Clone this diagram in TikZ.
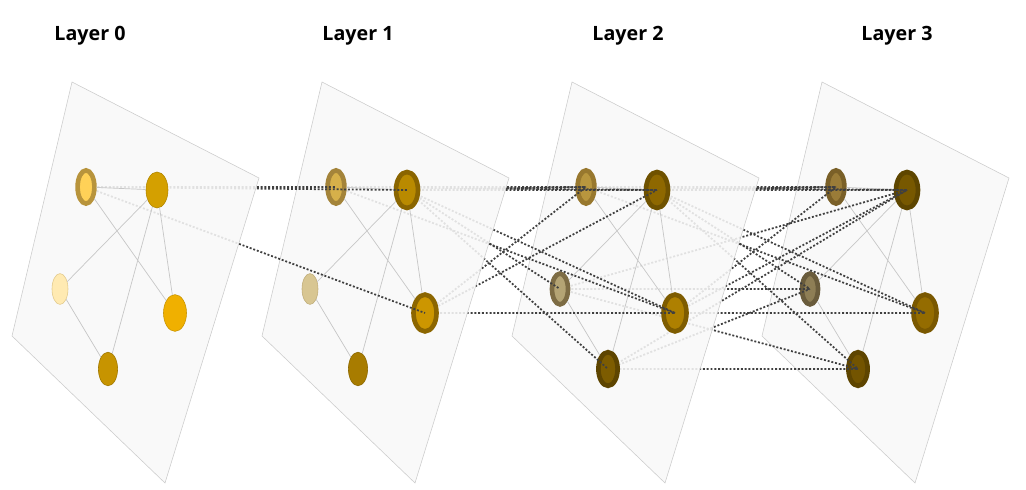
\documentclass[tikz,border=0pt]{standalone}
\usepackage{fontspec}
\setsansfont{Open Sans}
\usetikzlibrary{shapes.geometric}

\definecolor{sheetfill}{HTML}{F8F8F8}
% layer 0
\definecolor{r00}{HTML}{B8943C}\definecolor{f00}{HTML}{FFD157}
\definecolor{r01}{HTML}{B08600}\definecolor{f01}{HTML}{D4A000}
\definecolor{r02}{HTML}{E2C98A}\definecolor{f02}{HTML}{FFEAB2}
\definecolor{r03}{HTML}{C89400}\definecolor{f03}{HTML}{F0B000}
\definecolor{r04}{HTML}{A07800}\definecolor{f04}{HTML}{C79400}
% layer 1
\definecolor{r10}{HTML}{A4843A}\definecolor{f10}{HTML}{D6B04A}
\definecolor{r11}{HTML}{8A6500}\definecolor{f11}{HTML}{B98A00}
\definecolor{r12}{HTML}{BFAC78}\definecolor{f12}{HTML}{D8C692}
\definecolor{r13}{HTML}{8C6600}\definecolor{f13}{HTML}{CC9600}
\definecolor{r14}{HTML}{8C6800}\definecolor{f14}{HTML}{A87C00}
% layer 2
\definecolor{r20}{HTML}{98782E}\definecolor{f20}{HTML}{B8963E}
\definecolor{r21}{HTML}{6F5200}\definecolor{f21}{HTML}{8E6800}
\definecolor{r22}{HTML}{7D6C44}\definecolor{f22}{HTML}{B4A474}
\definecolor{r23}{HTML}{7E5C00}\definecolor{f23}{HTML}{AE8000}
\definecolor{r24}{HTML}{5E4500}\definecolor{f24}{HTML}{7D5C00}
% layer 3
\definecolor{r30}{HTML}{7A6028}\definecolor{f30}{HTML}{9A7C38}
\definecolor{r31}{HTML}{5E4600}\definecolor{f31}{HTML}{775800}
\definecolor{r32}{HTML}{6A5C3C}\definecolor{f32}{HTML}{8E7E55}
\definecolor{r33}{HTML}{7A5800}\definecolor{f33}{HTML}{946C00}
\definecolor{r34}{HTML}{5E4500}\definecolor{f34}{HTML}{735400}

\pgfdeclarelayer{sheet3}
\pgfdeclarelayer{hop23}
\pgfdeclarelayer{sheet2}
\pgfdeclarelayer{hop12}
\pgfdeclarelayer{sheet1}
\pgfdeclarelayer{hop01}
\pgfdeclarelayer{sheet0}
\pgfsetlayers{sheet3,hop23,sheet2,hop12,sheet1,hop01,sheet0,main}

\tikzset{
  sheet/.style={draw=black!20, line width=0.4pt, fill=sheetfill, fill opacity=0.88},
  link/.style={draw=black!22, line width=0.5pt},
  hop/.style={draw=black!75, line width=1.25pt, dash pattern=on 1.4pt off 1.3pt},
  dot/.style={ellipse, inner sep=0pt, line width=0.4pt},
  ring/.style={ellipse, inner sep=0pt, line width=3.3pt},
  k0/.style={minimum width=0.42cm, minimum height=0.83cm},
  k1/.style={minimum width=0.55cm, minimum height=0.90cm},
  k2/.style={minimum width=0.40cm, minimum height=0.77cm},
  k3/.style={minimum width=0.575cm, minimum height=0.92cm},
  k4/.style={minimum width=0.48cm, minimum height=0.84cm},
  title/.style={font=\sffamily\bfseries\fontsize{14}{16}\selectfont}
}

\begin{document}
\begin{tikzpicture}[x=0.025cm,y=-0.025cm]
\useasboundingbox (0,0) rectangle (1026,490);

% layer 3
\begin{pgfonlayer}{sheet3}
\draw[sheet] (822,82) -- (1009,178) -- (915,483) -- (762,336) -- cycle;
\node[ring,k0,draw=r30,fill=f30] (n3-0) at (836,187) {};
\node[ring,k1,draw=r31,fill=f31] (n3-1) at (907,190) {};
\node[ring,k2,draw=r32,fill=f32] (n3-2) at (810,289) {};
\node[ring,k3,draw=r33,fill=f33] (n3-3) at (925,313) {};
\node[ring,k4,draw=r34,fill=f34] (n3-4) at (858,369) {};
\draw[link] (n3-0) -- (n3-1) (n3-0) -- (n3-3) (n3-1) -- (n3-2) (n3-1) -- (n3-3) (n3-1) -- (n3-4) (n3-2) -- (n3-4);
\end{pgfonlayer}

% layer 2
\begin{pgfonlayer}{sheet2}
\draw[sheet] (572,82) -- (759,178) -- (665,483) -- (512,336) -- cycle;
\node[ring,k0,draw=r20,fill=f20] (n2-0) at (586,187) {};
\node[ring,k1,draw=r21,fill=f21] (n2-1) at (657,190) {};
\node[ring,k2,draw=r22,fill=f22] (n2-2) at (560,289) {};
\node[ring,k3,draw=r23,fill=f23] (n2-3) at (675,313) {};
\node[ring,k4,draw=r24,fill=f24] (n2-4) at (608,369) {};
\draw[link] (n2-0) -- (n2-1) (n2-0) -- (n2-3) (n2-1) -- (n2-2) (n2-1) -- (n2-3) (n2-1) -- (n2-4) (n2-2) -- (n2-4);
\end{pgfonlayer}

% layer 1
\begin{pgfonlayer}{sheet1}
\draw[sheet] (322,82) -- (509,178) -- (415,483) -- (262,336) -- cycle;
\node[ring,k0,draw=r10,fill=f10] (n1-0) at (336,187) {};
\node[ring,k1,draw=r11,fill=f11] (n1-1) at (407,190) {};
\node[dot,k2,draw=r12,fill=f12] (n1-2) at (310,289) {};
\node[ring,k3,draw=r13,fill=f13] (n1-3) at (425,313) {};
\node[dot,k4,draw=r14,fill=f14] (n1-4) at (358,369) {};
\draw[link] (n1-0) -- (n1-1) (n1-0) -- (n1-3) (n1-1) -- (n1-2) (n1-1) -- (n1-3) (n1-1) -- (n1-4) (n1-2) -- (n1-4);
\end{pgfonlayer}

% layer 0
\begin{pgfonlayer}{sheet0}
\draw[sheet] (72,82) -- (259,178) -- (165,483) -- (12,336) -- cycle;
\node[ring,k0,draw=r00,fill=f00] (n0-0) at (86,187) {};
\node[dot,k1,draw=r01,fill=f01] (n0-1) at (157,190) {};
\node[dot,k2,draw=r02,fill=f02] (n0-2) at (60,289) {};
\node[dot,k3,draw=r03,fill=f03] (n0-3) at (175,313) {};
\node[dot,k4,draw=r04,fill=f04] (n0-4) at (108,369) {};
\draw[link] (n0-0) -- (n0-1) (n0-0) -- (n0-3) (n0-1) -- (n0-2) (n0-1) -- (n0-3) (n0-1) -- (n0-4) (n0-2) -- (n0-4);
\end{pgfonlayer}

% messages between layers
\begin{pgfonlayer}{hop01}
\draw[hop] (n0-0.center) -- (n1-0.center) (n0-0.center) -- (n1-1.center) (n0-0.center) -- (n1-3.center);
\end{pgfonlayer}
\begin{pgfonlayer}{hop12}
\draw[hop] (n1-0.center) -- (n2-0.center) (n1-0.center) -- (n2-1.center) (n1-0.center) -- (n2-3.center);
\draw[hop] (n1-1.center) -- (n2-0.center) (n1-1.center) -- (n2-1.center) (n1-1.center) -- (n2-2.center)
  (n1-1.center) -- (n2-3.center) (n1-1.center) -- (n2-4.center);
\draw[hop] (n1-3.center) -- (n2-0.center) (n1-3.center) -- (n2-1.center) (n1-3.center) -- (n2-3.center);
\end{pgfonlayer}
\begin{pgfonlayer}{hop23}
\draw[hop] (n2-0.center) -- (n3-0.center) (n2-0.center) -- (n3-1.center) (n2-0.center) -- (n3-3.center);
\draw[hop] (n2-1.center) -- (n3-0.center) (n2-1.center) -- (n3-1.center) (n2-1.center) -- (n3-2.center)
  (n2-1.center) -- (n3-3.center) (n2-1.center) -- (n3-4.center);
\draw[hop] (n2-2.center) -- (n3-1.center) (n2-2.center) -- (n3-2.center) (n2-2.center) -- (n3-4.center);
\draw[hop] (n2-3.center) -- (n3-0.center) (n2-3.center) -- (n3-1.center) (n2-3.center) -- (n3-3.center);
\draw[hop] (n2-4.center) -- (n3-1.center) (n2-4.center) -- (n3-2.center) (n2-4.center) -- (n3-4.center);
\end{pgfonlayer}

\node[title] (t0) at (90,36) {Layer 0};
\node[title] (t1) at (358,36) {Layer 1};
\node[title] (t2) at (628,36) {Layer 2};
\node[title] (t3) at (897,36) {Layer 3};
\end{tikzpicture}
\end{document}
